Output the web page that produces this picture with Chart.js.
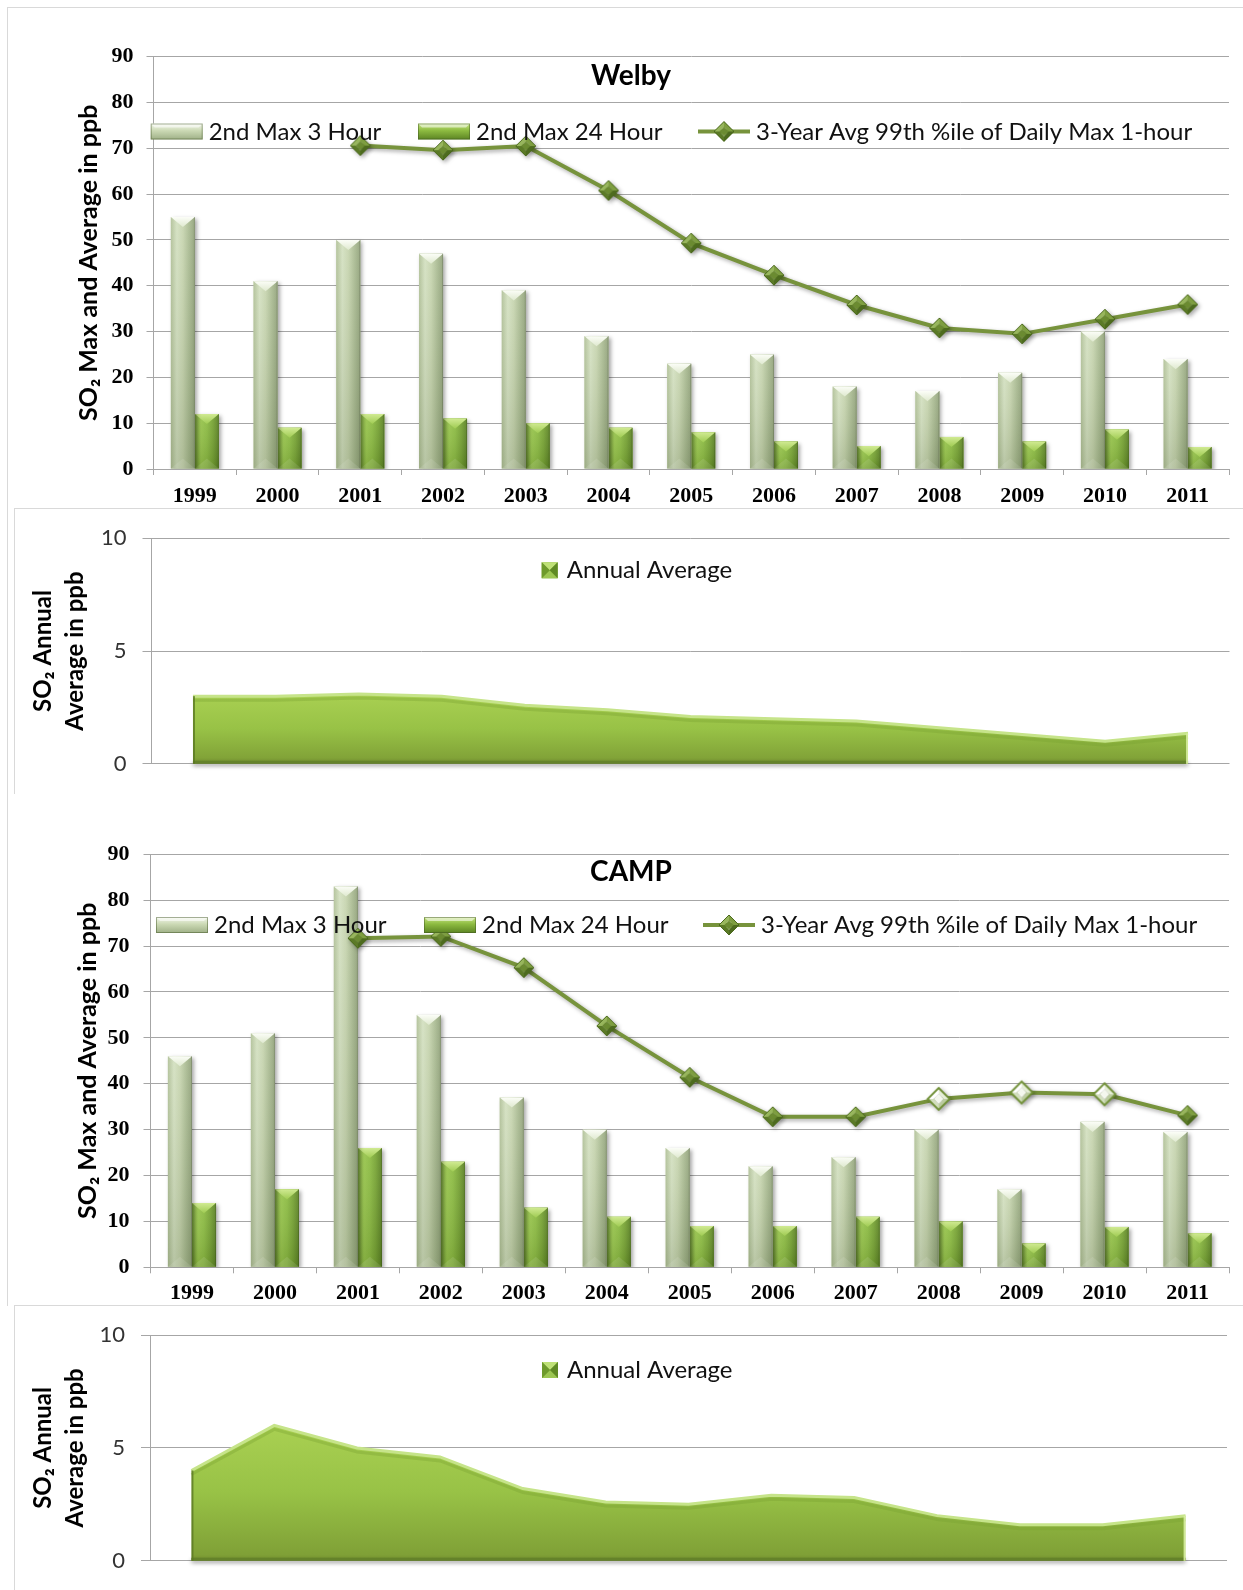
<!DOCTYPE html>
<html>
<head>
<meta charset="utf-8">
<title>SO2 trends – Welby and CAMP</title>
<script src="https://cdn.jsdelivr.net/npm/chart.js@4.4.1/dist/chart.umd.min.js"></script>
<style>
  html, body { margin: 0; padding: 0; background: #fff; }
  body { width: 1243px; height: 1590px; position: relative; overflow: hidden; }
  .panel { position: absolute; border: 1px solid #d9d9d9; background: #fff; box-sizing: border-box; }
  canvas { position: absolute; left: 0; }
</style>
</head>
<body>
<div class="panel" style="left:7px;top:7px;width:1260px;height:800px;border-bottom:none"></div>
<div class="panel" style="left:14px;top:508px;width:1260px;height:286px;border-bottom:none"></div>
<div class="panel" style="left:7px;top:800px;width:1260px;height:506px;border-top:none;border-bottom:none;background:transparent"></div>
<div class="panel" style="left:14px;top:1305px;width:1260px;height:300px"></div>

<canvas id="welbyBars" width="1243" height="508" style="top:0px"></canvas>
<canvas id="welbyAnnual" width="1243" height="285" style="top:508px"></canvas>
<canvas id="campBars" width="1243" height="505" style="top:800px"></canvas>
<canvas id="campAnnual" width="1243" height="285" style="top:1305px"></canvas>

<script>
// ---- data -------------------------------------------------------------
const years = ['1999', '2000', '2001', '2002', '2003', '2004', '2005', '2006', '2007', '2008', '2009', '2010', '2011'];

const seriesNames = ['2nd Max 3 Hour', '2nd Max 24 Hour', '3-Year Avg 99th %ile of Daily Max 1-hour'];
const annualName = 'Annual Average';

const welbyMax3Hr   = [55, 41, 50, 47, 39, 29, 23, 25, 18, 17, 21, 30, 24];
const welbyMax24Hr  = [12, 9, 12, 11, 10, 9, 8, 6, 5, 7, 6, 8.6, 4.8];
const welby3YrAvg   = [null, null, 70.6, 69.6, 70.5, 60.8, 49.3, 42.3, 35.8, 30.8, 29.5, 32.7, 35.9];
const welbyAnnual   = [3.0, 3.0, 3.1, 3.0, 2.6, 2.4, 2.1, 2.0, 1.9, 1.6, 1.3, 1.0, 1.35];
const welbyOpenMarks = [false, false, false, false, false, false, false, false, false, false, false, false, false];

const campMax3Hr    = [46, 51, 83, 55, 37, 30, 26, 22, 24, 30, 17, 31.7, 29.5];
const campMax24Hr   = [14, 17, 26, 23, 13, 11, 9, 9, 11, 10, 5.2, 8.8, 7.4];
const camp3YrAvg    = [null, null, 71.7, 72.1, 65.3, 52.6, 41.4, 32.8, 32.8, 36.7, 38.1, 37.7, 33.1];
const campAnnual    = [4.0, 6.0, 5.0, 4.6, 3.2, 2.6, 2.5, 2.9, 2.8, 2.0, 1.6, 1.6, 2.0];
// incomplete-data years are drawn with open (light) markers
const campOpenMarks = [false, false, false, false, false, false, false, false, false, true, true, true, false];

const maxAxisTicks = [0, 10, 20, 30, 40, 50, 60, 70, 80, 90];
const annualAxisTicks = [0, 5, 10];

// ---- styling ----------------------------------------------------------
const SANS = "Lato, 'Noto Sans', 'DejaVu Sans', sans-serif";
const SERIF = "'Liberation Serif', 'DejaVu Serif', serif";
const GRID = '#a6a6a6';
const LINE_GREEN = '#77933c';

const PAL_3HR = {
  base: '#c2d1a9',
  stops: ['#b0c097', '#d3e0c0', '#c6d4ae', '#aabb92', '#90a179'],
  top: ['#fbfdf7', '#dfe9cf'],
  swatch: ['#f3f7ec', '#cbd9b4', '#9fb087']
};
const PAL_24HR = {
  base: '#8ab83e',
  stops: ['#74a032', '#96c449', '#8aba3f', '#74a130', '#577e20'],
  top: ['#d0ea92', '#9fcb52'],
  swatch: ['#c6e581', '#8cba40', '#5c8423']
};

Chart.defaults.font.family = SANS;

// Beveled diamond marker, pre-rendered once
function makeDiamond(light) {
  const r = light ? 11 : 10, ri = light ? 5 : 4.5;
  const s = 2 * r + 4, m = s / 2;
  const c = document.createElement('canvas');
  c.width = s; c.height = s;
  const g = c.getContext('2d');
  const P = [[m, m - r], [m + r, m], [m, m + r], [m - r, m]];
  const Q = [[m, m - ri], [m + ri, m], [m, m + ri], [m - ri, m]];
  const facets = light
    ? ['#e6eed8', '#bccca0', '#d3dfbf', '#ffffff']
    : ['#7e9e40', '#4d6b1e', '#5b7a26', '#98b65d'];
  for (let i = 0; i < 4; i++) {
    const j = (i + 1) % 4;
    g.beginPath();
    g.moveTo(P[i][0], P[i][1]); g.lineTo(P[j][0], P[j][1]);
    g.lineTo(Q[j][0], Q[j][1]); g.lineTo(Q[i][0], Q[i][1]);
    g.closePath();
    g.fillStyle = facets[i];
    g.fill();
  }
  g.beginPath();
  Q.forEach((p, i) => i ? g.lineTo(p[0], p[1]) : g.moveTo(p[0], p[1]));
  g.closePath();
  g.fillStyle = light ? '#f4f7ee' : '#6b8b31';
  g.fill();
  g.beginPath();
  P.forEach((p, i) => i ? g.lineTo(p[0], p[1]) : g.moveTo(p[0], p[1]));
  g.closePath();
  g.strokeStyle = light ? '#6f8f35' : '#4b691d';
  g.lineWidth = light ? 1.8 : 1;
  g.stroke();
  return c;
}
const diamondDark = makeDiamond(false);
const diamondLight = makeDiamond(true);

function drawBevelBar(ctx, el, pal) {
  const p = el.getProps(['x', 'y', 'base', 'width'], true);
  const l = p.x - p.width / 2, r = p.x + p.width / 2;
  const t = Math.min(p.y, p.base), b = Math.max(p.y, p.base);
  const h = b - t;
  if (h <= 0) return;
  const g = ctx.createLinearGradient(l, 0, r, 0);
  pal.stops.forEach((c, i) => g.addColorStop(i / (pal.stops.length - 1), c));
  ctx.fillStyle = g;
  ctx.fillRect(l, t, p.width, h);
  // darker toward the base
  const vg = ctx.createLinearGradient(0, t, 0, b);
  vg.addColorStop(0, 'rgba(255,255,255,0.08)');
  vg.addColorStop(1, 'rgba(40,55,20,0.16)');
  ctx.fillStyle = vg;
  ctx.fillRect(l, t, p.width, h);
  const f = Math.min(p.width * 0.42, h / 2);
  const tg = ctx.createLinearGradient(0, t, 0, t + f);
  tg.addColorStop(0, pal.top[0]);
  tg.addColorStop(1, pal.top[1]);
  ctx.beginPath();
  ctx.moveTo(l, t); ctx.lineTo(r, t); ctx.lineTo(p.x, t + f); ctx.closePath();
  ctx.fillStyle = tg;
  ctx.fill();
  ctx.beginPath();
  ctx.moveTo(l, b); ctx.lineTo(r, b); ctx.lineTo(p.x, b - f); ctx.closePath();
  ctx.fillStyle = 'rgba(255,255,255,0.10)';
  ctx.fill();
  ctx.fillStyle = 'rgba(0,0,0,0.14)';
  ctx.fillRect(r - 1, t, 1, h);
}

function drawLegendBar(ctx, x, y, w, h, pal) {
  const g = ctx.createLinearGradient(0, y, 0, y + h);
  g.addColorStop(0, pal.swatch[0]);
  g.addColorStop(0.45, pal.swatch[1]);
  g.addColorStop(1, pal.swatch[2]);
  ctx.fillStyle = g;
  ctx.fillRect(x, y, w, h);
  ctx.beginPath();
  ctx.moveTo(x, y); ctx.lineTo(x + w, y); ctx.lineTo(x + w - 4, y + 4); ctx.lineTo(x + 4, y + 4); ctx.closePath();
  ctx.fillStyle = 'rgba(255,255,255,0.55)';
  ctx.fill();
  ctx.strokeStyle = 'rgba(60,80,30,0.45)';
  ctx.lineWidth = 1;
  ctx.strokeRect(x + 0.5, y + 0.5, w - 1, h - 1);
}

// Soft shadows under bars and the trend line, plus bevel shading on the bars
const bevelPlugin = {
  id: 'bevel',
  beforeDatasetDraw(chart) {
    const ctx = chart.ctx;
    ctx.save();
    ctx.shadowColor = 'rgba(0,0,0,0.35)';
    ctx.shadowBlur = 4;
    ctx.shadowOffsetX = 2;
    ctx.shadowOffsetY = 2;
  },
  afterDatasetDraw(chart, args) {
    const ctx = chart.ctx;
    ctx.restore();
    const ds = chart.data.datasets[args.index];
    if (!ds.bevel) return;
    const ca = chart.chartArea;
    ctx.save();
    ctx.beginPath();
    ctx.rect(ca.left, ca.top, ca.right - ca.left, ca.bottom - ca.top);
    ctx.clip();
    args.meta.data.forEach(el => drawBevelBar(ctx, el, ds.bevel));
    ctx.restore();
  }
};

// Station title and in-plot legend
function stationOverlay(spec) {
  return {
    id: 'stationOverlay',
    afterDraw(chart) {
      const ctx = chart.ctx;
      const ds = chart.data.datasets;
      ctx.save();
      ctx.fillStyle = '#000';
      ctx.textBaseline = 'alphabetic';
      ctx.textAlign = 'center';
      ctx.font = 'bold 28px ' + SANS;
      ctx.fillText(spec.title, spec.titleX, spec.titleY);

      ctx.textAlign = 'left';
      ctx.font = '24px ' + SANS;
      const mid = spec.legendY - 8;
      spec.legendX.forEach((x0, i) => {
        const d = ds[i];
        if (d.type === 'line') {
          ctx.strokeStyle = d.borderColor;
          ctx.lineWidth = 4;
          ctx.beginPath();
          ctx.moveTo(x0, mid); ctx.lineTo(x0 + 52, mid);
          ctx.stroke();
          ctx.drawImage(diamondDark, x0 + 26 - diamondDark.width / 2, mid - diamondDark.height / 2);
        } else {
          drawLegendBar(ctx, x0, mid - 8, 52, 16, d.bevel);
        }
        ctx.fillStyle = '#111';
        ctx.fillText(d.label, x0 + 58, spec.legendY);
      });
      ctx.restore();
    }
  };
}

function barChart(id, station, max3, max24, avg3, openMarks, L) {
  return new Chart(document.getElementById(id), {
    type: 'bar',
    data: {
      labels: years,
      datasets: [
        { label: seriesNames[0], data: max3, order: 1, backgroundColor: PAL_3HR.base, borderWidth: 0,
          categoryPercentage: 0.58, barPercentage: 1, bevel: PAL_3HR },
        { label: seriesNames[1], data: max24, order: 1, backgroundColor: PAL_24HR.base, borderWidth: 0,
          categoryPercentage: 0.58, barPercentage: 1, bevel: PAL_24HR },
        { type: 'line', label: seriesNames[2], data: avg3, order: 0, borderColor: LINE_GREEN, borderWidth: 4,
          tension: 0, fill: false, pointRadius: 10, pointHoverRadius: 10,
          pointStyle: c => (openMarks[c.dataIndex] ? diamondLight : diamondDark) }
      ]
    },
    options: {
      responsive: false,
      animation: false,
      devicePixelRatio: 1,
      layout: { padding: { left: 0, top: L.top, right: L.right, bottom: 0 } },
      plugins: { legend: { display: false }, tooltip: { enabled: false } },
      scales: {
        x: {
          grid: { display: true, drawOnChartArea: false, drawTicks: true, tickLength: 6, color: GRID, offset: true },
          border: { display: true, color: GRID },
          ticks: { font: { family: SERIF, size: 22, weight: 'bold' }, color: '#000', padding: L.xPad,
                   maxRotation: 0, autoSkip: false },
          afterFit: s => { s.height = L.xHeight; }
        },
        y: {
          min: 0, max: 90,
          afterBuildTicks: s => { s.ticks = maxAxisTicks.map(v => ({ value: v })); },
          grid: { color: GRID, tickLength: 7 },
          border: { display: true, color: GRID },
          ticks: { font: { family: SERIF, size: 22, weight: 'bold' }, color: '#000', padding: L.yPad },
          title: { display: true, text: 'SO\u2082 Max and Average in ppb', color: '#000',
                   font: { family: SANS, size: 25, weight: 'bold', lineHeight: 1.2 },
                   padding: { top: L.titlePad, bottom: 0 } },
          afterFit: s => { s.width = L.yWidth; }
        }
      }
    },
    plugins: [bevelPlugin, stationOverlay({
      title: station, titleX: L.titleX, titleY: L.titleY, legendX: L.legendX, legendY: L.legendY
    })]
  });
}

function annualFill(c) {
  const chart = c.chart;
  const ca = chart.chartArea;
  if (!ca) return PAL_24HR.base;
  const vals = chart.data.datasets[0].data;
  const top = chart.scales.y.getPixelForValue(Math.max.apply(null, vals));
  const g = chart.ctx.createLinearGradient(0, top, 0, ca.bottom);
  g.addColorStop(0, '#a9d052');
  g.addColorStop(0.5, '#98c246');
  g.addColorStop(1, '#7d9d35');
  return g;
}

// Edges of the beveled area and its legend
function annualOverlay(spec) {
  return {
    id: 'annualOverlay',
    afterDatasetDraw(chart, args) {
      const ctx = chart.ctx;
      const pts = args.meta.data;
      const base = chart.scales.y.getPixelForValue(0);
      const x0 = pts[0].x, x1 = pts[pts.length - 1].x;
      // soft band just under the top edge
      ctx.save();
      ctx.strokeStyle = 'rgba(120,160,50,0.35)';
      ctx.lineWidth = 3;
      ctx.beginPath();
      pts.forEach((p, i) => i ? ctx.lineTo(p.x, p.y + 4) : ctx.moveTo(p.x, p.y + 4));
      ctx.stroke();
      ctx.restore();
      ctx.save();
      ctx.shadowColor = 'rgba(0,0,0,0.45)';
      ctx.shadowBlur = 4;
      ctx.shadowOffsetY = 2;
      ctx.strokeStyle = '#64822a';
      ctx.lineWidth = 3;
      ctx.beginPath();
      ctx.moveTo(x0, base - 1.5); ctx.lineTo(x1, base - 1.5);
      ctx.stroke();
      ctx.restore();
      ctx.save();
      ctx.lineWidth = 2;
      ctx.strokeStyle = 'rgba(90,120,35,0.8)';
      ctx.beginPath(); ctx.moveTo(x0 + 1, pts[0].y); ctx.lineTo(x0 + 1, base); ctx.stroke();
      ctx.strokeStyle = 'rgba(215,238,160,0.9)';
      ctx.beginPath(); ctx.moveTo(x1 - 1, pts[pts.length - 1].y); ctx.lineTo(x1 - 1, base); ctx.stroke();
      ctx.restore();
    },
    afterDraw(chart) {
      const ctx = chart.ctx;
      const x = spec.swatchX, y = spec.swatchY, s = 16, cx = x + s / 2, cy = y + s / 2;
      ctx.save();
      ctx.fillStyle = '#7fab37';
      ctx.fillRect(x, y, s, s);
      const tri = (ax, ay, bx, by, col) => {
        ctx.beginPath(); ctx.moveTo(ax, ay); ctx.lineTo(bx, by); ctx.lineTo(cx, cy); ctx.closePath();
        ctx.fillStyle = col; ctx.fill();
      };
      tri(x, y, x + s, y, '#bfe177');
      tri(x, y + s, x + s, y + s, '#9cc652');
      tri(x, y, x, y + s, '#6e9a2c');
      tri(x + s, y, x + s, y + s, '#5f8a24');
      ctx.fillStyle = '#111';
      ctx.font = '24px ' + SANS;
      ctx.textAlign = 'left';
      ctx.textBaseline = 'alphabetic';
      ctx.fillText(chart.data.datasets[0].label, x + 25, spec.textY);
      ctx.restore();
    }
  };
}

function annualChart(id, values, L) {
  return new Chart(document.getElementById(id), {
    type: 'line',
    data: {
      labels: years,
      datasets: [{
        label: annualName, data: values, fill: 'origin', tension: 0,
        pointRadius: 0, pointHoverRadius: 0,
        borderColor: '#c6e48a', borderWidth: 3, backgroundColor: annualFill
      }]
    },
    options: {
      responsive: false,
      animation: false,
      devicePixelRatio: 1,
      layout: { padding: { left: 0, top: L.top, right: L.right, bottom: L.bottom } },
      plugins: { legend: { display: false }, tooltip: { enabled: false } },
      scales: {
        x: { type: 'category', offset: true, display: false },
        y: {
          min: 0, max: 10,
          afterBuildTicks: s => { s.ticks = annualAxisTicks.map(v => ({ value: v })); },
          grid: { color: GRID, tickLength: 9 },
          border: { display: true, color: GRID },
          ticks: { font: { family: SANS, size: 22 }, color: '#333', padding: 16 },
          title: { display: true, text: ['SO\u2082 Annual', 'Average in ppb'], color: '#000',
                   font: { family: SANS, size: 24, weight: 'bold', lineHeight: 1.3333 },
                   padding: { top: L.titlePad, bottom: 0 } },
          afterFit: s => { s.width = L.yWidth; }
        }
      }
    },
    plugins: [annualOverlay({ swatchX: L.swatchX, swatchY: L.swatchY, textY: L.textY })]
  });
}

barChart('welbyBars', 'Welby', welbyMax3Hr, welbyMax24Hr, welby3YrAvg, welbyOpenMarks, {
  top: 56.7, right: 9.5, yWidth: 153.5, xHeight: 39, xPad: 8, yPad: 13, titlePad: 74,
  titleX: 631, titleY: 84.5, legendX: [150.7, 418, 698], legendY: 139.5
});
annualChart('welbyAnnual', welbyAnnual, {
  top: 30.3, right: 13.5, bottom: 27, yWidth: 151.5, titlePad: 27,
  swatchX: 541.7, swatchY: 54.3, textY: 70.3
});
barChart('campBars', 'CAMP', campMax3Hr, campMax24Hr, camp3YrAvg, campOpenMarks, {
  top: 54.3, right: 9, yWidth: 150.5, xHeight: 37.7, xPad: 7, yPad: 14, titlePad: 72.6,
  titleX: 631, titleY: 81, legendX: [156, 424, 703], legendY: 133
});
annualChart('campAnnual', campAnnual, {
  top: 30, right: 16, bottom: 23.3, yWidth: 150, titlePad: 27,
  swatchX: 542, swatchY: 57, textY: 72.5
});
</script>
</body>
</html>
